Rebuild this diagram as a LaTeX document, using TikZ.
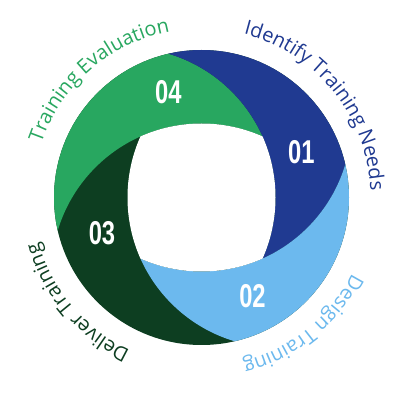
\documentclass[tikz,border=0pt]{standalone}
\usepackage{fontspec}
\usetikzlibrary{decorations.text}
\newfontfamily\ringfont{Open Sans}
\newfontfamily\numfont[FakeStretch=0.72]{Liberation Sans}
\definecolor{segGreen}{RGB}{40,167,96}
\definecolor{segBlue}{RGB}{32,58,145}
\definecolor{segSky}{RGB}{108,185,238}
\definecolor{segDark}{RGB}{13,62,33}
\newcommand{\ringtext}{\ringfont\fontsize{20}{24}\selectfont}

\begin{document}
\begin{tikzpicture}[x=1pt, y=1pt,
    num/.style={text=white, inner sep=0pt,
        font=\numfont\bfseries\fontsize{33}{35}\selectfont},
    ring label/.style 2 args={decorate, decoration={text along path,
        text align=center, text={|\ringtext\color{#1}|#2}}}]

    \fill[white] (0,0) rectangle (400,400);
    \useasboundingbox (0,0) rectangle (400,400);

    \coordinate (O) at (201.5,202.5);
    \coordinate (cg) at (201.5,126.5);
    \coordinate (cb) at (125.5,202.5);
    \coordinate (cs) at (201.5,278.5);
    \coordinate (cd) at (277.5,202.5);

    % base disc, then the swirl segments on top
    \fill[segDark] (O) circle (147.5pt);
    \foreach \col/\inn/\out in {segGreen/cg/cb, segBlue/cb/cs, segSky/cs/cd} {
        \begin{scope}
            \clip (O) circle (147.5pt);
            \clip (\out) circle (150pt);
            \fill[\col, even odd rule] (0,0) rectangle (400,400) (\inn) circle (150pt);
        \end{scope}
    }
    \begin{scope}
        \clip (cg) circle (150pt);
        \clip (cb) circle (150pt);
        \clip (cs) circle (150pt);
        \fill[white] (cd) circle (150pt);
    \end{scope}

    \node[num] (n04) at (168.3,308.3) {04};
    \node[num] (n01) at (301.3,247.5) {01};
    \node[num] (n02) at (252.5,104.2) {02};
    \node[num] (n03) at (102.0,166.7) {03};

    \path[ring label={segGreen}{Training Evaluation}]
        ([shift={(O)}]171:169pt) arc[start angle=171, end angle=91, radius=169pt];
    \path[ring label={segBlue}{Identify Training Needs}]
        ([shift={(O)}]79:169pt) arc[start angle=79, end angle=-1, radius=169pt];
    \path[ring label={segSky}{Design Training}]
        ([shift={(O)}]-11.4:169pt) arc[start angle=-11.4, end angle=-91.4, radius=169pt];
    \path[ring label={segDark}{Deliver Training}]
        ([shift={(O)}]260.2:169pt) arc[start angle=260.2, end angle=180.2, radius=169pt];

\end{tikzpicture}
\end{document}
